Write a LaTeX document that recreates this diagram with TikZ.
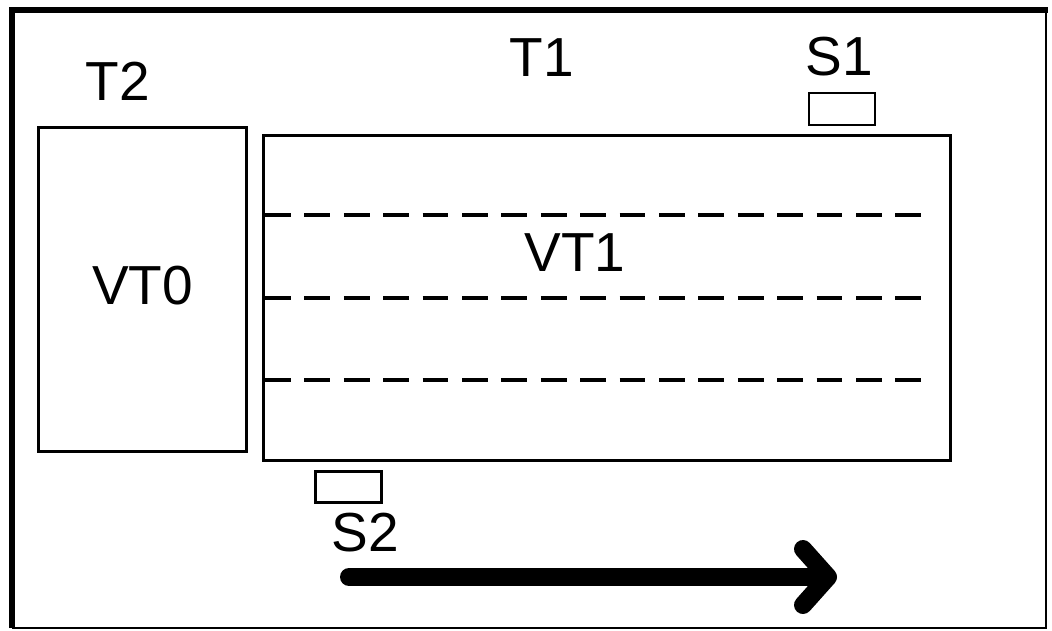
\documentclass[tikz,border=0pt]{standalone}
\usepackage{fontspec}
\setmainfont{Liberation Sans}
\usetikzlibrary{arrows.meta,positioning}

\tikzset{
  box/.style={rectangle,draw,line width=3pt,inner sep=0pt},
  sensor/.style={rectangle,draw,line width=2.5pt,inner sep=0pt,
    minimum width=66pt,minimum height=32pt},
  lbl/.style={inner sep=0pt,font=\fontsize{55}{60}\selectfont},
  lane/.style={line width=3.3pt,dash pattern=on 25.7pt off 13.7pt},
  motion/.style={line width=18pt,line cap=round,
    -{Straight Barb[length=25pt,width=56pt,round]}}
}

\begin{document}
\begin{tikzpicture}[x=1pt,y=-1pt]
    \useasboundingbox (0,0) rectangle (1052,630);
    % frame
    \draw[line width=1.5pt] (12,628) -- (1046,628) -- (1046,10);
    \draw[line width=6pt] (12,628) -- (12,10) -- (1048,10);
    % tracks
    \node[box,minimum width=208pt,minimum height=324pt,
      label={[lbl,yshift=3.5pt]center:VT0}] (vt0) at (142.5,289.5) {};
    \node[box,minimum width=687pt,minimum height=325pt] (t1) at (607,298) {};
    \foreach \y in {215,298,380}
      \draw[lane] (265,\y) -- (922,\y);
    \node[lbl] (vt1) at (575,253) {VT1};
    \node[lbl] (t2) at (118,81) {T2};
    \node[lbl] (t1lbl) at (542,57.5) {T1};
    % sensors
    \node[sensor] (s1) at (842,109) {};
    \node[lbl] (s1lbl) at (839,57) {S1};
    \node[sensor,minimum height=31pt] (s2) at (348.5,487) {};
    \node[lbl] (s2lbl) at (365,533) {S2};
    % direction
    \coordinate (mstart) at (349,577);
    \coordinate (mend) at (837,577);
    \draw[motion] (mstart) -- (mend);
\end{tikzpicture}
\end{document}
